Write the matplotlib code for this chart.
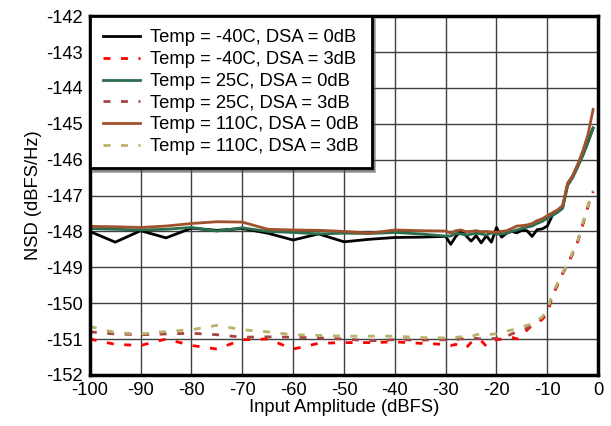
import numpy as np
import matplotlib
matplotlib.use("Agg")
import matplotlib.pyplot as plt

plt.rcParams['font.family'] = ['Liberation Sans', 'DejaVu Sans']
plt.rcParams['axes.unicode_minus'] = False

# input amplitude (dBFS)
amp = [-100, -95, -90, -85, -80, -75, -70, -65, -60, -55, -50, -45, -40, -35, -30,
       -29, -28, -27, -26, -25, -24, -23, -22, -21, -20, -19, -18, -17, -16, -15,
       -14, -13, -12, -11, -10, -9, -8, -7, -6, -5, -4, -3, -2, -1]

# NSD (dBFS/Hz)
m40_0db = [-148.00, -148.30, -147.98, -148.18, -147.91, -147.97, -147.92, -148.05, -148.24, -148.07,
           -148.29, -148.22, -148.17, -148.16, -148.14,
           -148.36, -148.14, -147.98, -148.12, -148.27, -148.12, -148.32, -148.12, -148.30, -147.89,
           -148.16, -148.05, -148.00, -148.04, -147.97, -147.98, -148.14, -147.95, -147.93, -147.85,
           -147.55, -147.45, -147.33, -146.68, -146.45, -146.15, -145.86, -145.50, -145.12]
m40_3db = [-151.00, -151.15, -151.18, -151.00, -151.18, -151.28, -151.02, -151.00, -151.28, -151.12,
           -151.10, -151.10, -151.08, -151.12, -151.15,
           -151.18, -151.15, -151.22, -151.25, -151.10, -151.02, -151.05, -151.20, -151.10, -151.02,
           -151.00, -150.98, -150.95, -151.00, -150.95, -150.75, -150.62, -150.55, -150.45, -150.30,
           -149.80, -149.50, -149.18, -148.92, -148.62, -148.28, -147.80, -147.30, -146.90]
t25_0db = [-147.92, -147.94, -147.96, -147.94, -147.89, -147.99, -147.90, -148.00, -148.03, -148.07,
           -148.05, -148.06, -148.03, -148.07, -148.13,
           -148.13, -148.06, -148.07, -148.10, -148.08, -148.05, -148.07, -148.10, -148.04, -148.08,
           -148.07, -148.05, -148.00, -147.96, -147.92, -147.88, -147.85, -147.78, -147.72, -147.63,
           -147.55, -147.47, -147.36, -146.72, -146.50, -146.20, -145.88, -145.52, -145.12]
t25_3db = [-150.80, -150.86, -150.88, -150.86, -150.84, -150.88, -150.95, -150.94, -150.95, -150.97,
           -151.00, -151.05, -151.02, -151.03, -151.02,
           -151.00, -151.02, -150.99, -151.01, -151.00, -150.98, -151.00, -151.01, -150.99, -150.98,
           -150.98, -150.92, -150.86, -150.80, -150.76, -150.70, -150.62, -150.50, -150.40, -150.25,
           -149.78, -149.48, -149.17, -148.90, -148.60, -148.27, -147.78, -147.30, -146.88]
t110_0db = [-147.86, -147.87, -147.89, -147.85, -147.78, -147.73, -147.74, -147.94, -147.96, -147.97,
            -148.00, -148.05, -147.96, -147.98, -147.99,
            -148.05, -147.98, -147.96, -148.01, -148.00, -147.98, -148.01, -148.00, -148.02, -148.02,
            -148.00, -147.98, -147.92, -147.85, -147.84, -147.82, -147.78, -147.70, -147.65, -147.56,
            -147.48, -147.40, -147.28, -146.65, -146.45, -146.12, -145.75, -145.30, -144.60]
t110_3db = [-150.65, -150.82, -150.86, -150.79, -150.74, -150.62, -150.74, -150.80, -150.88, -150.90,
            -150.92, -150.92, -150.92, -150.96, -150.97,
            -150.95, -150.95, -150.94, -150.95, -150.94, -150.88, -150.86, -150.86, -150.87, -150.85,
            -150.82, -150.78, -150.75, -150.70, -150.66, -150.62, -150.58, -150.50, -150.38, -150.20,
            -149.72, -149.45, -149.15, -148.88, -148.58, -148.25, -147.75, -147.28, -146.86]

labels = ["Temp = -40C, DSA = 0dB", "Temp = -40C, DSA = 3dB",
          "Temp = 25C, DSA = 0dB", "Temp = 25C, DSA = 3dB",
          "Temp = 110C, DSA = 0dB", "Temp = 110C, DSA = 3dB"]
series = [m40_0db, m40_3db, t25_0db, t25_3db, t110_0db, t110_3db]
colors = ["#000000", "#ff0000", "#2b6e4f", "#a84444", "#a0522d", "#b8b26a"]
dashed = [False, True, False, True, False, True]

fig = plt.figure(figsize=(6.11, 4.26), dpi=100)
ax = fig.add_axes([0.147, 0.12, 0.832, 0.842])

for y, c, d, lab in zip(series, colors, dashed, labels):
    if d:
        ax.plot(amp, y, color=c, lw=2, linestyle=(0, (2.5, 3.8)), label=lab)
    else:
        ax.plot(amp, y, color=c, lw=2, label=lab)

ax.set_xlim(-100, 0)
ax.set_ylim(-152, -142)
ax.set_xticks(np.arange(-100, 1, 10))
ax.set_yticks(np.arange(-152, -141, 1))
ax.grid(True, color="#404040", lw=1)
ax.set_axisbelow(True)
ax.tick_params(length=0, labelsize=13.2, pad=5)
for s in ax.spines.values():
    s.set_linewidth(2.5)
ax.set_xlabel("Input Amplitude (dBFS)", fontsize=13.2, labelpad=0)
ax.set_ylabel("NSD (dBFS/Hz)", fontsize=13.2, labelpad=3)

leg = ax.legend(loc="upper left", fontsize=13.2, handlelength=2.0, handletextpad=0.55,
                labelspacing=0.26, borderaxespad=0, fancybox=False, shadow=True,
                framealpha=1, borderpad=0.72)
leg.get_frame().set_edgecolor("black")
leg.get_frame().set_linewidth(2)

fig.savefig("out.png", dpi=100)
